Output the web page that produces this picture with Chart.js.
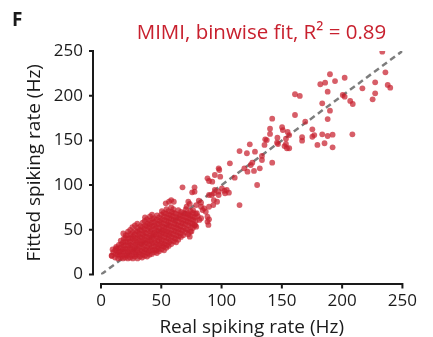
<!DOCTYPE html>
<html>
<head>
<meta charset="utf-8">
<script src="https://cdn.jsdelivr.net/npm/chart.js@4/dist/chart.umd.min.js"></script>
<style>
  html, body { margin: 0; padding: 0; background: #fff; }
  #wrap { position: relative; width: 433px; height: 337px; }
</style>
</head>
<body>
<div id="wrap"><canvas id="c" width="433" height="337"></canvas></div>
<script>
// Axis ticks (Hz)
const xTicks = [0, 50, 100, 150, 200, 250];
const yTicks = [0, 50, 100, 150, 200, 250];

// Identity reference line endpoints
const identityLine = [0, 250];

// Bins with high rates: [real rate, fitted rate]
const sparsePoints = [
  [233.3,249.2],[235.9,226.2],[189.9,224],[181.9,212.8],[185.9,214.6],[194.1,216.4],[202.1,220.1],
  [227.4,215],[237.8,212],[239.9,209],[216.8,208.3],[188,204.5],[227.4,202.7],[160.9,201.6],
  [164.9,199.7],[200.5,200.8],[202.1,198.9],[206.7,194.1],[208.8,190.7],[225.3,196],[183.5,191.5],
  [189.9,183.2],[160.9,178.4],[142,174.3],[188,173.9],[169.4,170.9],[140.2,163.1],[140.2,157.2],
  [150.2,164.7],[150.8,161.6],[175.3,162.4],[154.8,159.4],[156.1,156],[176.9,156],[175.3,154.1],
  [183.5,156.8],[188,154.9],[192.1,156.4],[208.5,156.8],[136.2,151.2],[137.5,150.4],[146.3,153],
  [166.8,153.5],[166.8,149.7],[153.4,151.9],[179.5,144.9],[185.4,146.8],[192.1,142.3],[123.4,145.6],
  [135.6,144.9],[146,147.4],[146.8,146],[153.4,146],[152.2,143.7],[156.1,141.2],[154.2,141.2],
  [127.7,137.4],[121,135.6],[133.5,132.6],[133.5,128.1],[125.5,125.1],[142,125.1],[121.5,115],
  [126.9,115.8],[131.7,118.8],[118.9,118.8],[114.9,138.1],[124.2,122.5]
];

// Bins with moderate rates, between the dense core and the high-rate tail
const midPoints = [
  [106.9,124.4],[97.6,118.8],[98.1,116.9],[94.4,111.3],[98.9,109.4],[88.3,107.6],[89.6,104.6],
  [92.3,103.8],[110.9,108.3],[129.5,100.1],[67.6,97.5],[77.6,97.5],[75.6,91.9],[77.6,92.6],
  [94.4,94.5],[97.6,92.6],[102.4,93.7],[102.9,90.8],[100.3,96.4],[104.3,94.5],[106.1,91.5],
  [89.6,88.9],[91.8,88.9],[93.6,83.3],[96.3,81.4],[97.6,88.9],[93.6,90.8],[114.9,77.7],
  [81.1,82.6],[79,77.7],[83,80.3],[73.6,78.9],[72.4,81.4],[71,75.8],[85.6,74],[89.6,75.8],
  [86.9,70.2],[88.3,64.7],[89.6,61.7],[80.3,65.4],[79.5,68.5],[84.3,72.1],[76.4,72.1],
  [72.4,68.5],[83,62.9],[79,53.5],[77.6,55.4],[89.1,55.4],[58.2,83.3],[60.4,81.4],[56.4,81.4],
  [53.7,79.6],[93.1,77.7],[83,75.8],[88.3,59.1],[81.6,61],[73.6,42.3],[75,48],
  [9,21],[12.5,29.3],[15.2,25.5]
];

// Dense core of low-rate bins
const corePoints = [
  [8.8,21],[10.3,25],[9.6,28],
  [11.7,19],[12.4,23],[11.9,27],[12.6,31],
  [14.2,18],[13.8,22],[14.5,25],[14.1,29],[14.8,33],
  [16.3,19],[15.9,22],[16.6,26],[16.1,30],[16.8,34],[16.4,38],
  [18.2,18],[17.8,21],[18.5,25],[18.1,28],[18.7,32],[18.3,36],[18.9,40],[18.5,46],
  [20.1,19],[20.6,22],[19.9,26],[20.4,29],[20.0,33],[20.7,37],[20.2,41],[20.5,44],
  [22.3,18],[21.8,21],[22.5,25],[22.1,28],[22.7,32],[22.2,36],[22.6,40],[22.0,44],[22.4,48],
  [24.2,19],[23.8,23],[24.5,26],[24.1,30],[24.6,33],[24.0,37],[24.4,41],[24.7,45],[24.2,50],
  [26.4,18],[25.9,21],[26.2,25],[26.7,28],[26.1,32],[26.5,36],[26.0,40],[26.6,43],[26.3,47],[26.0,53],
  [28.1,20],[28.6,23],[27.9,27],[28.3,30],[28.7,34],[28.0,38],[28.5,41],[28.2,45],[28.6,49],[28.1,55],
  [30.3,18],[29.8,22],[30.5,25],[30.1,29],[30.6,33],[30.0,36],[30.4,40],[30.7,44],[30.2,48],[30.5,52],[30.1,57],
  [32.2,20],[31.8,24],[32.5,27],[32.0,31],[32.6,35],[32.1,38],[32.4,42],[31.9,46],[32.3,50],[32.7,54],
  [34.1,19],[34.6,22],[34.0,26],[34.4,30],[33.9,34],[34.5,37],[34.2,41],[34.7,45],[34.0,49],[34.3,53],[34.6,58],
  [36.3,21],[35.8,25],[36.5,28],[36.0,32],[36.6,36],[36.2,39],[35.9,43],[36.4,47],[36.1,51],[36.7,55],[36.2,60],[36.5,64],
  [38.2,20],[38.6,24],[37.9,27],[38.4,31],[38.0,35],[38.7,38],[38.3,42],[37.8,46],[38.5,50],[38.1,54],[38.6,57],[38.2,62],
  [40.3,22],[39.8,26],[40.5,29],[40.1,33],[40.6,37],[40.0,41],[40.4,44],[40.8,48],[40.2,52],[40.5,56],[40.1,60],[40.6,65],
  [42.2,23],[42.6,27],[41.9,31],[42.4,35],[42.0,38],[42.7,42],[42.3,46],[41.8,50],[42.5,54],[42.1,58],[42.6,62],[42.3,67],
  [44.1,25],[44.5,28],[44.0,32],[44.6,36],[44.2,40],[43.8,44],[44.4,47],[44.7,51],[44.1,55],[44.5,59],[44.0,63],
  [46.3,24],[45.9,27],[46.5,31],[46.1,34],[46.7,38],[46.2,42],[45.8,45],[46.4,49],[46.0,53],[46.6,57],[46.2,61],[46.5,66],
  [48.2,26],[47.8,29],[48.5,33],[48.0,37],[48.6,41],[48.3,44],[47.9,48],[48.4,52],[48.1,56],[48.7,60],[48.2,64],
  [50.1,28],[50.6,32],[50.0,35],[50.4,39],[49.9,43],[50.5,47],[50.2,50],[50.7,54],[50.1,58],[50.4,62],[50.0,67],[50.5,71],
  [52.3,27],[51.9,31],[52.5,34],[52.0,38],[52.6,42],[52.2,46],[51.8,49],[52.4,53],[52.0,57],[52.6,61],[52.3,65],[52.0,69],
  [54.2,30],[54.6,33],[54.0,37],[54.4,41],[53.9,45],[54.5,48],[54.1,52],[54.7,56],[54.2,60],[54.6,64],[54.0,68],[54.3,73],
  [56.1,32],[56.5,36],[56.0,40],[56.6,44],[56.2,47],[55.8,51],[56.4,55],[56.0,59],[56.6,63],[56.3,67],[55.9,71],
  [58.3,34],[57.9,38],[58.5,42],[58.0,46],[58.6,50],[58.2,54],[57.8,58],[58.4,62],[58.1,66],[58.7,70],[58.2,75],
  [60.2,37],[60.6,41],[60.0,45],[60.5,49],[60.1,53],[60.7,57],[60.3,61],[59.9,65],[60.4,69],[60.0,73],
  [62.3,36],[61.8,40],[62.5,44],[62.0,48],[62.6,52],[62.2,56],[61.9,60],[62.5,64],[62.1,68],
  [64.1,39],[64.6,43],[64.0,47],[64.4,51],[63.9,55],[64.5,59],[64.2,63],[64.7,67],[64.1,72],
  [66.3,42],[65.9,46],[66.5,50],[66.0,54],[66.6,58],[66.2,62],[65.8,66],[66.4,70],
  [68.2,44],[67.8,49],[68.5,53],[68.0,57],[68.6,61],[68.1,65],[68.5,69],
  [70.1,47],[70.6,51],[70.0,56],[70.5,60],[70.2,64],[69.8,68],[70.4,73],
  [72.3,45],[71.9,50],[72.5,55],[72.0,59],[72.6,63],[72.2,67],
  [74.1,48],[74.6,53],[74.0,58],[74.5,62],[73.9,66],[74.3,71],
  [76.2,52],[75.8,57],[76.5,61],[76.0,65],[76.4,69],
  [78.1,55],[78.6,60],[77.9,64],[78.4,68]
];

const RED = 'rgb(200, 32, 46)';
const INK = '#1a1a1a';
const FONT = "'Open Sans', 'Noto Sans', sans-serif";

const toXY = p => ({ x: p[0], y: p[1] });
const scatterData = [...corePoints, ...midPoints, ...sparsePoints].map(toXY);

// Spines drawn detached from the plotting area, with outward ticks
const offsetSpines = {
  id: 'offsetSpines',
  afterDraw(chart) {
    const { ctx, chartArea, scales } = chart;
    const xs = scales.x, ys = scales.y;
    ctx.save();
    ctx.strokeStyle = INK;
    ctx.lineWidth = 2;
    ctx.lineCap = 'butt';

    const sx = chartArea.left - 8;
    ctx.beginPath();
    ctx.moveTo(sx, ys.getPixelForValue(yTicks[0]) + 1);
    ctx.lineTo(sx, ys.getPixelForValue(yTicks[yTicks.length - 1]) - 1);
    yTicks.forEach(v => {
      const p = ys.getPixelForValue(v);
      ctx.moveTo(sx, p);
      ctx.lineTo(sx - 4, p);
    });
    ctx.stroke();

    const sy = chartArea.bottom + 9.5;
    ctx.beginPath();
    ctx.moveTo(xs.getPixelForValue(xTicks[0]) - 1, sy);
    ctx.lineTo(xs.getPixelForValue(xTicks[xTicks.length - 1]) + 1, sy);
    xTicks.forEach(v => {
      const p = xs.getPixelForValue(v);
      ctx.moveTo(p, sy);
      ctx.lineTo(p, sy + 4.5);
    });
    ctx.stroke();
    ctx.restore();
  }
};

// Panel letter and panel heading
const panelText = {
  id: 'panelText',
  afterDraw(chart) {
    const { ctx } = chart;
    ctx.save();
    ctx.fillStyle = INK;
    ctx.font = "bold 19px " + FONT;
    ctx.textAlign = 'left';
    ctx.textBaseline = 'alphabetic';
    ctx.fillText('F', 12, 25.5);
    ctx.fillStyle = RED;
    ctx.font = "20.5px " + FONT;
    ctx.textAlign = 'center';
    ctx.fillText('MIMI, binwise fit, R\u00B2 = 0.89', 261.5, 38.5);
    ctx.restore();
  }
};

new Chart(document.getElementById('c'), {
  data: {
    datasets: [
      {
        type: 'scatter',
        data: scatterData,
        backgroundColor: 'rgba(200, 32, 46, 0.72)',
        borderWidth: 0,
        pointRadius: 2.9,
        pointHoverRadius: 2.9
      },
      {
        type: 'line',
        data: identityLine.map(v => ({ x: v, y: v })),
        borderColor: '#7d7d7d',
        borderWidth: 2.5,
        borderDash: [6, 4],
        pointRadius: 0,
        fill: false
      }
    ]
  },
  options: {
    responsive: false,
    animation: false,
    devicePixelRatio: 1,
    layout: { padding: { top: 51, right: 18.7, bottom: 0, left: 0 } },
    plugins: {
      legend: { display: false },
      tooltip: { enabled: false },
      title: { display: false }
    },
    scales: {
      x: {
        type: 'linear',
        min: 0, max: 250,
        afterBuildTicks: s => { s.ticks = xTicks.map(v => ({ value: v })); },
        afterFit: s => { s.height = 62.5; },
        grid: { display: false, drawTicks: false },
        border: { display: false },
        ticks: { color: INK, font: { family: FONT, size: 17 }, padding: 16, maxRotation: 0 },
        title: {
          display: true, text: 'Real spiking rate (Hz)', color: INK,
          font: { family: FONT, size: 19, lineHeight: 1 }, padding: { top: 0, bottom: 0 }
        }
      },
      y: {
        type: 'linear',
        min: 0, max: 250,
        afterBuildTicks: s => { s.ticks = yTicks.map(v => ({ value: v })); },
        afterFit: s => { s.width = 101; },
        grid: { display: false, drawTicks: false },
        border: { display: false },
        ticks: { color: INK, font: { family: FONT, size: 17 }, padding: 18 },
        title: {
          display: true, text: 'Fitted spiking rate (Hz)', color: INK,
          font: { family: FONT, size: 19, lineHeight: 1 }, padding: { top: 25, bottom: 0 }
        }
      }
    }
  },
  plugins: [offsetSpines, panelText]
});
</script>
</body>
</html>
